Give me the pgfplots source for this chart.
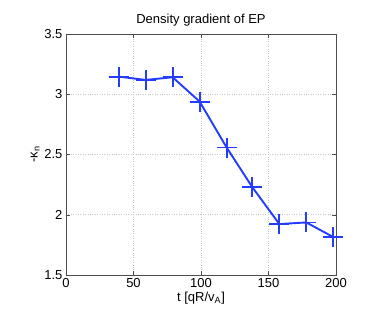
\documentclass[border=0pt]{standalone}
\usepackage{fontspec}
\setmainfont{Liberation Sans}
\usepackage{pgfplots}
\pgfplotsset{compat=1.18}

\definecolor{mblue}{RGB}{35,60,255}

\begin{document}
\fontsize{13bp}{15bp}\selectfont
\begin{tikzpicture}
\useasboundingbox (-66bp,-53bp) rectangle (305bp,275bp);
\begin{axis}[
    scale only axis,
    width=270bp, height=241bp,
    xmin=0, xmax=200, ymin=1.5, ymax=3.5,
    xtick={0,50,...,200},
    ytick={1.5,2,2.5,3,3.5},
    /pgf/number format/assume math mode=true,
    tick label style={font=\fontsize{13bp}{15bp}\selectfont},
    label style={font=\fontsize{13bp}{15bp}\selectfont},
    title style={font=\fontsize{13bp}{15bp}\selectfont, yshift=-3bp},
    title={Density gradient of EP},
    xlabel={t [qR/v\textsubscript{A}]},
    ylabel={-κ\textsubscript{n}},
    xlabel style={yshift=5bp},
    ylabel style={yshift=-4bp},
    grid=major,
    grid style={gray!45, line width=0.5bp, dash pattern=on 0.8bp off 1.6bp},
    axis line style={black!70},
    tick style={black!70},
    tick align=inside,
    xtick pos=both, ytick pos=both,
    major tick length=4bp,
    xticklabel style={yshift=1bp},
    yticklabel style={xshift=1bp},
]
\addplot[mblue, line width=1.9bp, mark=+, mark size=10bp,
         mark options={line width=1.9bp}] coordinates {
    (39,3.146) (59,3.119) (79,3.141) (99,2.939) (119,2.558)
    (138,2.229) (158,1.923) (178,1.936) (198,1.815)
};
\end{axis}
\end{tikzpicture}
\end{document}
